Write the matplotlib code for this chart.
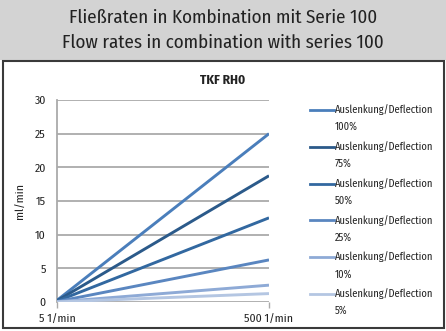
import matplotlib
matplotlib.use("Agg")
from matplotlib import pyplot as plt
from matplotlib.lines import Line2D
from matplotlib.patches import Rectangle
import numpy as np

plt.rcParams['font.family'] = ['Fira Sans Condensed', 'DejaVu Sans']

# flow rate range of the pump [1/min]
speeds = [5, 500]
speed_labels = ["5 1/min", "500 1/min"]

# deflection settings and flow at 500 1/min [ml/min]
deflection = ["100%", "75%", "50%", "25%", "10%", "5%"]
flow_max = [25.0, 18.75, 12.5, 6.25, 2.5, 1.25]
colors = ["#4a7ebb", "#2b5a8a", "#3268a0", "#5a86c0", "#8eaad6", "#b4c6e2"]

W, H = 446, 331
fig = plt.figure(figsize=(W / 100, H / 100), dpi=100)

# header band
fig.add_artist(Rectangle((0, 1 - 60 / H), 1, 60 / H, transform=fig.transFigure,
                         facecolor="#d3d3d3", edgecolor="none", zorder=0))
fig.text(223 / W, 1 - 18 / H, "Fließraten in Kombination mit Serie 100",
         ha="center", va="center", fontsize=13.7, color="#222222")
fig.text(223 / W, 1 - 43 / H, "Flow rates in combination with series 100",
         ha="center", va="center", fontsize=13.7, color="#222222")

# chart frame
fig.add_artist(Rectangle((3 / W, 1 - 328 / H), 441 / W, 267 / H, transform=fig.transFigure,
                         facecolor="white", edgecolor="#3a3a3a", lw=1.5, zorder=1))

ax = fig.add_axes([57 / W, 29 / H, 212 / W, 202 / H])
ax.set_zorder(2)
ax.patch.set_visible(False)

for f, c in zip(flow_max, colors):
    y = [f * s / speeds[-1] for s in speeds]
    ax.plot(speeds, y, color=c, lw=2.1, solid_capstyle="butt", zorder=3)

ax.set_xlim(speeds[0], speeds[-1])
ax.set_ylim(0, 30)
ax.set_yticks(np.arange(0, 31, 5))
ax.set_xticks(speeds)
ax.set_xticklabels(speed_labels)
ax.grid(axis="y", color="#aaaaaa", lw=1.3)
ax.set_axisbelow(True)
for side in ["top", "right", "bottom"]:
    ax.spines[side].set_visible(False)
ax.spines["left"].set_color("#aaaaaa")
ax.spines["left"].set_linewidth(1.3)
ax.tick_params(axis="y", length=0, labelsize=8.5, pad=8, colors="#222222")
ax.tick_params(axis="x", length=4, width=1, color="#aaaaaa", labelsize=8.5,
               labelcolor="#222222", pad=4)
ax.set_ylabel("ml/min", fontsize=8.5, color="#222222", labelpad=7)

fig.text(223 / W, 1 - 80 / H, "TKF RH0", ha="center", va="center",
         fontsize=9.5, fontweight="bold", color="#222222")

# legend entries, handle aligned with first text line
for i, (d, c) in enumerate(zip(deflection, colors)):
    yy = 1 - (110 + i * 36.8) / H
    fig.add_artist(Line2D([310 / W, 334 / W], [yy, yy], transform=fig.transFigure,
                          color=c, lw=2))
    fig.text(335 / W, yy, "Auslenkung/Deflection", ha="left", va="center",
             fontsize=7.5, color="#222222")
    fig.text(335 / W, yy - 17 / H, d, ha="left", va="center",
             fontsize=7.5, color="#222222")

fig.savefig("out.png", dpi=100)
